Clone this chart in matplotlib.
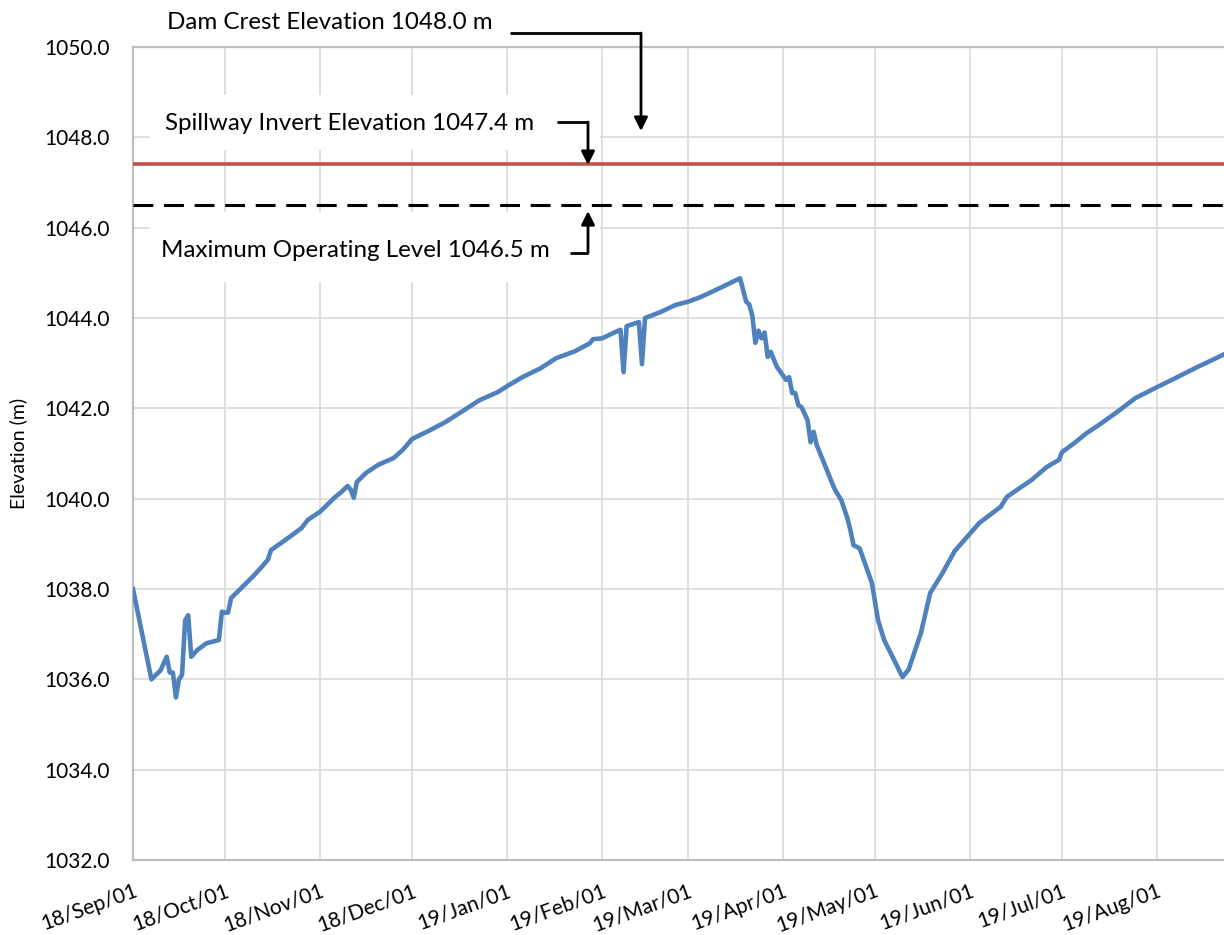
import matplotlib
matplotlib.use("Agg")
import matplotlib.pyplot as plt
import matplotlib.dates as mdates
from matplotlib.patches import Rectangle
import numpy as np
import pandas as pd

plt.rcParams['font.family'] = ['Lato', 'DejaVu Sans']

# ---------------- data ----------------
dates = [
    "2018-09-01", "2018-09-07", "2018-09-10", "2018-09-12", "2018-09-13", "2018-09-14",
    "2018-09-15", "2018-09-16", "2018-09-17", "2018-09-18", "2018-09-19", "2018-09-20",
    "2018-09-22", "2018-09-25", "2018-09-29", "2018-09-30", "2018-10-01", "2018-10-02",
    "2018-10-03", "2018-10-06", "2018-10-10", "2018-10-13", "2018-10-15", "2018-10-16",
    "2018-10-22", "2018-10-26", "2018-10-28", "2018-11-01", "2018-11-06", "2018-11-08",
    "2018-11-10", "2018-11-11", "2018-11-12", "2018-11-13", "2018-11-16", "2018-11-20",
    "2018-11-25", "2018-11-28", "2018-12-01", "2018-12-07", "2018-12-12", "2018-12-18",
    "2018-12-23", "2018-12-29", "2019-01-01", "2019-01-06", "2019-01-12", "2019-01-17",
    "2019-01-23", "2019-01-28", "2019-01-29", "2019-02-01", "2019-02-05", "2019-02-07",
    "2019-02-08", "2019-02-09", "2019-02-13", "2019-02-14", "2019-02-15", "2019-02-20",
    "2019-02-25", "2019-03-01", "2019-03-05", "2019-03-11", "2019-03-18", "2019-03-20",
    "2019-03-21", "2019-03-22", "2019-03-23", "2019-03-24", "2019-03-25", "2019-03-26",
    "2019-03-27", "2019-03-28", "2019-03-30", "2019-04-02", "2019-04-03", "2019-04-04",
    "2019-04-05", "2019-04-06", "2019-04-07", "2019-04-09", "2019-04-10", "2019-04-11",
    "2019-04-12", "2019-04-17", "2019-04-18", "2019-04-20", "2019-04-22", "2019-04-23",
    "2019-04-24", "2019-04-26", "2019-04-30", "2019-05-02", "2019-05-04", "2019-05-10",
    "2019-05-12", "2019-05-16", "2019-05-19", "2019-05-23", "2019-05-27", "2019-05-31",
    "2019-06-04", "2019-06-11", "2019-06-13", "2019-06-21", "2019-06-26", "2019-06-30",
    "2019-07-01", "2019-07-05", "2019-07-09", "2019-07-13", "2019-07-19", "2019-07-25",
    "2019-08-01", "2019-08-07", "2019-08-14", "2019-08-19", "2019-08-23", "2019-08-31",
]
elevation = [
    1038.00, 1036.00, 1036.20, 1036.50, 1036.15, 1036.15,
    1035.60, 1036.00, 1036.10, 1037.30, 1037.42, 1036.50,
    1036.65, 1036.80, 1036.87, 1037.50, 1037.47, 1037.48,
    1037.80, 1038.00, 1038.27, 1038.49, 1038.65, 1038.86,
    1039.15, 1039.35, 1039.53, 1039.71, 1040.04, 1040.15,
    1040.28, 1040.20, 1040.02, 1040.37, 1040.57, 1040.75,
    1040.90, 1041.08, 1041.32, 1041.52, 1041.70, 1041.96,
    1042.18, 1042.36, 1042.49, 1042.69, 1042.89, 1043.11,
    1043.26, 1043.44, 1043.53, 1043.55, 1043.68, 1043.74,
    1042.80, 1043.82, 1043.91, 1042.98, 1044.00, 1044.13,
    1044.29, 1044.36, 1044.46, 1044.65, 1044.88, 1044.36,
    1044.30, 1044.05, 1043.45, 1043.72, 1043.55, 1043.68,
    1043.14, 1043.25, 1042.92, 1042.63, 1042.69, 1042.34,
    1042.34, 1042.07, 1042.03, 1041.74, 1041.25, 1041.48,
    1041.19, 1040.35, 1040.19, 1039.97, 1039.57, 1039.30,
    1038.97, 1038.90, 1038.13, 1037.31, 1036.87, 1036.05,
    1036.22, 1037.03, 1037.91, 1038.35, 1038.84, 1039.15,
    1039.46, 1039.82, 1040.04, 1040.41, 1040.70, 1040.86,
    1041.03, 1041.23, 1041.45, 1041.63, 1041.92, 1042.23,
    1042.47, 1042.67, 1042.91, 1043.07, 1043.20, 1043.45,
]
dam_crest = 1048.0
spillway_invert = 1047.4
max_operating = 1046.5
labels = {
    "dam": "Dam Crest Elevation 1048.0 m",
    "spill": "Spillway Invert Elevation 1047.4 m",
    "mol": "Maximum Operating Level 1046.5 m",
}
y_ticks = [1032, 1034, 1036, 1038, 1040, 1042, 1044, 1046, 1048, 1050]

x = pd.to_datetime(dates)
y = np.array(elevation)

# ---------------- figure ----------------
W, H = 1224, 935
fig = plt.figure(figsize=(W / 100, H / 100), dpi=100)
ax = fig.add_axes([133 / W, 1 - 860 / H, 1 - 133 / W, (860 - 47) / H])

x0 = mdates.date2num(pd.Timestamp("2018-09-01"))
x1 = x0 + (1224 - 133) / 3.066
ax.set_xlim(x0, x1)
ax.set_ylim(1032, 1050)

ax.xaxis.set_major_locator(mdates.MonthLocator(bymonthday=1))
ax.xaxis.set_major_formatter(mdates.DateFormatter("%y/%b/%d"))
ax.set_yticks(y_ticks)
ax.yaxis.set_major_formatter(matplotlib.ticker.FormatStrFormatter("%.1f"))

ax.grid(True, color="#d9d9d9", lw=1.2, zorder=0)
ax.set_axisbelow(True)
for s in ["left", "bottom", "top"]:
    ax.spines[s].set_color("#bfbfbf")
    ax.spines[s].set_linewidth(1.6)
ax.spines["right"].set_visible(False)
ax.tick_params(axis="both", length=0, labelsize=15, colors="black")
ax.tick_params(axis="y", pad=17)
ax.tick_params(axis="x", pad=15)
for lab in ax.get_xticklabels():
    lab.set_rotation(20)
    lab.set_ha("right")
    lab.set_rotation_mode("anchor")

ax.set_ylabel("Elevation (m)", fontsize=14, labelpad=12)

# white boxes behind annotation texts (hide gridlines)
for (px0, py0, px1, py1) in [(150, 95, 600, 150), (150, 212, 600, 282)]:
    ax.add_patch(Rectangle((px0 / W, 1 - py1 / H), (px1 - px0) / W, (py1 - py0) / H,
                           transform=fig.transFigure, facecolor="white",
                           edgecolor="none", zorder=1, clip_on=False))

ax.axhline(spillway_invert, color="#c0504d", lw=2.6, zorder=3)
ax.axhline(max_operating, color="black", lw=2.2, dashes=(6.5, 3.5), zorder=3)
ax.plot(x, y, color="#4f81bd", lw=3.3, solid_joinstyle="round", zorder=4)

# annotations
def d(day):
    return x0 + day


def px2day(px):
    return (px - 133) / 3.066


def py2el(py):
    return 1032 + (860 - py) / 45.17


txtkw = dict(fontsize=17.4, va="center", ha="left", zorder=6)
ax.text(d(px2day(167)), py2el(22), labels["dam"], clip_on=False, **txtkw)
ax.text(d(px2day(165)), py2el(123), labels["spill"], clip_on=False, **txtkw)
ax.text(d(px2day(161)), py2el(250), labels["mol"], clip_on=False, **txtkw)

lkw = dict(color="black", lw=2.0, clip_on=False, zorder=6, solid_capstyle="butt")
akw = dict(arrowstyle="-|>", color="black", lw=2.0, mutation_scale=20,
           shrinkA=0, shrinkB=0)

# Dam crest
ax.plot([d(px2day(510)), d(px2day(641))], [py2el(33), py2el(33)], **lkw)
ax.annotate("", xy=(d(px2day(641)), py2el(131)), xytext=(d(px2day(641)), py2el(33)),
            arrowprops=akw, annotation_clip=False, zorder=6)
# Spillway
ax.plot([d(px2day(557)), d(px2day(588))], [py2el(122), py2el(122)], **lkw)
ax.annotate("", xy=(d(px2day(588)), py2el(165)), xytext=(d(px2day(588)), py2el(122)),
            arrowprops=akw, annotation_clip=False, zorder=6)
# Max operating
ax.plot([d(px2day(570)), d(px2day(588))], [py2el(253), py2el(253)], **lkw)
ax.annotate("", xy=(d(px2day(588)), py2el(211)), xytext=(d(px2day(588)), py2el(253)),
            arrowprops=akw, annotation_clip=False, zorder=6)

fig.savefig("out.png", dpi=100)
